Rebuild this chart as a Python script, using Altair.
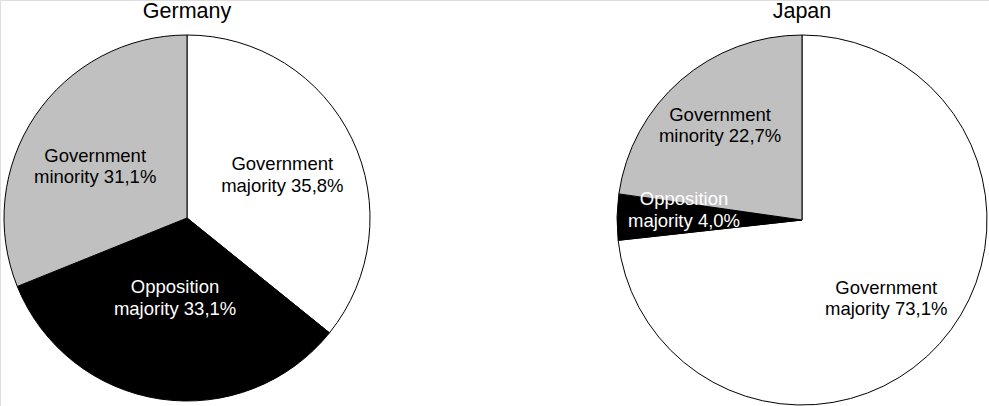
import altair as alt
import pandas as pd

countries = ["Germany", "Japan"]
categories = ["Government majority", "Opposition majority", "Government minority"]
germany_values = [35.8, 33.1, 31.1]
japan_values = [73.1, 4.0, 22.7]

slice_colors = ["#ffffff", "#000000", "#c0c0c0"]
text_colors = ["black", "white", "black"]

rows = []
for country, vals in zip(countries, [germany_values, japan_values]):
    for i, (cat, v) in enumerate(zip(categories, vals)):
        first, rest = cat.split(" ", 1)
        label = f"{first}\n{rest} {str(v).replace('.', ',')}%"
        rows.append({"country": country, "category": cat, "value": v, "idx": i, "label": label})
df = pd.DataFrame(rows)
titles = pd.DataFrame({"country": countries})

FONT = "Liberation Sans"
FS = 18.5
LH = 21.5
xscale = alt.Scale(domain=countries, range=[187, 802], type="point", padding=0)
# style: pie radius, centre y, label distance from centre and small nudges per slice
pie_cfg = {
    "Germany": dict(r=183, cy=218, lr=[109, 81, 106], dx=[-3, 0, -4], dy=[4, 0, 8]),
    "Japan": dict(r=185, cy=220, lr=[113, 118, 125], dx=[0, 0, 0], dy=[3, -8, 0]),
}

layers = []
for country in countries:
    cfg = pie_cfg[country]
    base = alt.Chart(df).transform_filter(alt.datum.country == country).encode(
        theta=alt.Theta("value:Q", stack="normalize"),
        order=alt.Order("idx:Q"),
        x=alt.X("country:N", scale=xscale, axis=None),
        y=alt.value(cfg["cy"]),
    )
    arc = base.mark_arc(radius=cfg["r"], stroke="black", strokeWidth=1).encode(
        color=alt.Color("category:N", scale=alt.Scale(domain=categories, range=slice_colors), legend=None)
    )
    layers.append(arc)
    for i, cat in enumerate(categories):
        txt = base.mark_text(radius=cfg["lr"][i], font=FONT, fontSize=FS, lineBreak="\n",
                             lineHeight=LH, align="center", baseline="middle",
                             dx=cfg["dx"][i], dy=-LH / 2 + cfg["dy"][i],
                             color=text_colors[i]).encode(
            text="label:N",
            opacity=alt.condition(alt.datum.category == cat, alt.value(1), alt.value(0)),
        )
        layers.append(txt)

title_layer = alt.Chart(titles).mark_text(font=FONT, fontSize=21.5, baseline="middle", color="black").encode(
    x=alt.X("country:N", scale=xscale, axis=None),
    y=alt.value(12),
    text="country:N",
)
layers.append(title_layer)

chart = alt.layer(*layers).properties(
    width=989, height=406, autosize=alt.AutoSizeParams(type="none"), padding=0
).configure_view(stroke=None).configure(background="white")

chart.save("out.html", embed_options={"renderer": "svg", "actions": False})
